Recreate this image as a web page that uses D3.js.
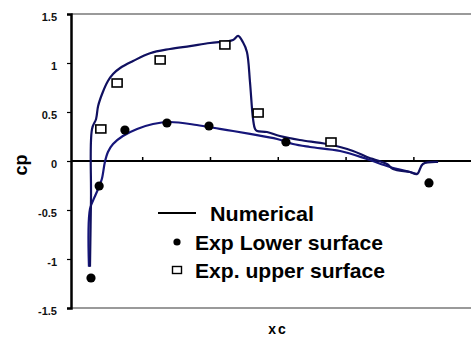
<!DOCTYPE html>
<html><head><meta charset="utf-8">
<script src="https://cdn.jsdelivr.net/npm/d3@7"></script>
<style>html,body{margin:0;padding:0;background:#fff;}svg{display:block;}</style>
</head><body>
<svg id="c" width="471" height="337"></svg>
<script>
// y-axis tick labels
const yTicks = [-1.5, -1, -0.5, 0, 0.5, 1, 1.5];
const yTickLabels = ["-1.5", "-1", "-0.5", "0", "0.5", "1", "1.5"];
const xTicks = [0.2, 0.4, 0.6, 0.8, 1.0];

// Numerical solution, upper surface (x/c, cp)
const upperX = [0.046,0.049,0.052,0.064,0.070,0.084,0.099,0.114,0.135,0.173,0.223,0.282,0.341,0.400,0.468,0.483,0.497,0.509,0.518,0.527,0.533,0.539,0.568,0.606,0.665,0.745,0.822,0.863,0.922,0.940,0.990,1.011,1.028,1.073];
const upperCp = [-1.08,-0.39,0.327,0.429,0.561,0.704,0.816,0.888,0.949,1.020,1.100,1.143,1.173,1.204,1.235,1.276,1.214,1.112,0.806,0.429,0.327,0.306,0.296,0.255,0.214,0.173,0.102,0.041,-0.031,-0.082,-0.112,-0.133,-0.031,-0.010];

// Numerical solution, lower surface
const lowerX = [0.043,0.046,0.061,0.070,0.081,0.090,0.099,0.114,0.143,0.185,0.232,0.282,0.361,0.429,0.468,0.518,0.598,0.645,0.695,0.784,0.863,0.931,0.990,1.011];
const lowerCp = [-1.08,-0.49,-0.357,-0.286,-0.184,-0.010,0.092,0.173,0.255,0.327,0.378,0.398,0.367,0.327,0.306,0.276,0.224,0.173,0.143,0.102,0.020,-0.061,-0.112,-0.133];

// Experiment, lower surface (filled circles)
const expLowerX = [0.049,0.073,0.149,0.273,0.397,0.624,1.046];
const expLowerCp = [-1.194,-0.255,0.316,0.388,0.357,0.194,-0.224];

// Experiment, upper surface (open squares)
const expUpperX = [0.078,0.126,0.253,0.444,0.542,0.757];
const expUpperCp = [0.327,0.796,1.031,1.184,0.49,0.194];

const legendLabels = ["Numerical", "Exp Lower surface", "Exp. upper surface"];

const svg = d3.select("#c");
const x = d3.scaleLinear().domain([-0.01, 1.17]).range([71, 471]);
const y = d3.scaleLinear().domain([-1.5, 1.5]).range([308, 14]);

// frame
svg.append("line").attr("x1", 71).attr("x2", 471).attr("y1", y(1.5)).attr("y2", y(1.5))
  .attr("stroke", "#9a9a9a").attr("stroke-width", 2);
svg.append("line").attr("x1", 71).attr("x2", 471).attr("y1", y(-1.5)).attr("y2", y(-1.5))
  .attr("stroke", "#9a9a9a").attr("stroke-width", 2);

// y axis
const yAxis = d3.axisLeft(y).tickValues(yTicks).tickSize(4).tickPadding(10)
  .tickFormat((d, i) => yTickLabels[i]);
const gy = svg.append("g").attr("transform", "translate(71,0)").call(yAxis);
gy.select(".domain").attr("stroke", "#000").attr("stroke-width", 2.5);
gy.selectAll(".tick line").attr("stroke", "#000").attr("stroke-width", 1.2);
gy.selectAll(".tick text").attr("font-family", "Liberation Sans, Arial, sans-serif")
  .attr("font-size", 11).attr("font-weight", "bold").attr("fill", "#111").attr("dy", "0.55em");

// zero line with ticks
const xAxis = d3.axisTop(x).tickValues(xTicks).tickSize(4).tickFormat("");
const gx = svg.append("g").attr("transform", `translate(0,${y(0)})`).call(xAxis);
gx.select(".domain").attr("stroke", "#000").attr("stroke-width", 2).attr("d", `M71,0H471`);
gx.selectAll(".tick line").attr("stroke", "#000").attr("stroke-width", 1.5);

// numerical curves
const line = d3.line().x(d => x(d[0])).y(d => y(d[1])).curve(d3.curveCatmullRom.alpha(0.5));
const upperPts = upperX.map((v, i) => [v, upperCp[i]]);
const lowerPts = lowerX.map((v, i) => [v, lowerCp[i]]);
svg.append("path").attr("d", line(lowerPts)).attr("fill", "none")
  .attr("stroke", "#16167a").attr("stroke-width", 2.2);
svg.append("path").attr("d", line(upperPts)).attr("fill", "none")
  .attr("stroke", "#101060").attr("stroke-width", 2.2);

// experimental squares
svg.selectAll("rect.up").data(expUpperX.map((v, i) => [v, expUpperCp[i]])).join("rect")
  .attr("class", "up")
  .attr("x", d => x(d[0]) - 5).attr("y", d => y(d[1]) - 4)
  .attr("width", 10).attr("height", 8)
  .attr("fill", "#fff").attr("stroke", "#000").attr("stroke-width", 1.6);

// experimental circles
svg.selectAll("circle.lo").data(expLowerX.map((v, i) => [v, expLowerCp[i]])).join("circle")
  .attr("class", "lo")
  .attr("cx", d => x(d[0])).attr("cy", d => y(d[1])).attr("r", 4.6).attr("fill", "#000");

// legend
const lf = "Liberation Sans, Arial, sans-serif";
svg.append("line").attr("x1", 158).attr("x2", 196).attr("y1", 213).attr("y2", 213)
  .attr("stroke", "#000").attr("stroke-width", 2);
svg.append("circle").attr("cx", 177).attr("cy", 242).attr("r", 3.6).attr("fill", "#000");
svg.append("rect").attr("x", 172.5).attr("y", 266.5).attr("width", 9).attr("height", 7)
  .attr("fill", "#fff").attr("stroke", "#000").attr("stroke-width", 1.4);
const legY = [221, 250, 278];
const legX = [210, 195, 195];
const legW = [104, 188, 190];
legendLabels.forEach((t, i) => {
  svg.append("text").attr("x", legX[i]).attr("y", legY[i]).text(t)
    .attr("font-family", lf).attr("font-size", 21).attr("font-weight", "bold")
    .attr("textLength", legW[i]).attr("lengthAdjust", "spacingAndGlyphs").attr("fill", "#000");
});

// axis titles
svg.append("text").attr("transform", "translate(27,165) rotate(-90)").attr("text-anchor", "middle")
  .attr("font-family", lf).attr("font-size", 18).attr("font-weight", "bold").text("cp");
svg.append("text").attr("x", 278).attr("y", 334).attr("text-anchor", "middle")
  .attr("font-family", lf).attr("font-size", 14).attr("font-weight", "bold")
  .attr("letter-spacing", 2).text("xc");
</script>
</body></html>
